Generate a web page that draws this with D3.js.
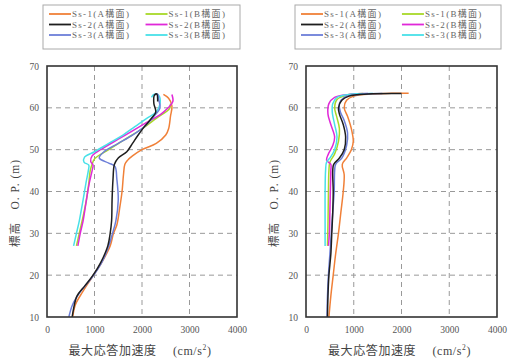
<!DOCTYPE html>
<html><head><meta charset="utf-8">
<script src="https://cdn.jsdelivr.net/npm/d3@7"></script>
<style>
body{margin:0;background:#fff;}
svg text{font-family:"Liberation Serif","DejaVu Serif","Noto Sans CJK JP",serif;}
</style></head>
<body><svg id="c" width="508" height="360"></svg>
<script>
// ---- data ----
const seriesNames = ["Ss-1(A構面)","Ss-1(B構面)","Ss-2(A構面)","Ss-2(B構面)","Ss-3(A構面)","Ss-3(B構面)"];
const seriesColors = ["#f08038","#a8d828","#1e1e1e","#e028d8","#6c7ed8","#48e0e8"];
const xTicks = [0,1000,2000,3000,4000];
const yTicks = [10,20,30,40,50,60,70];

// left panel  [acceleration, elevation]
const L_ss1A = [[540,10],[600,13],[750,16],[950,19.5],[1150,23],[1330,27],[1400,30],[1470,32],[1530,36],[1580,40],[1610,44],[1640,46.5],[1700,47.5],[1800,48.5],[2000,50],[2300,51.5],[2500,53.5],[2560,55],[2600,58],[2630,60.5],[2560,62.3],[2450,63.2]];
const L_ss1B = [[620,27],[680,30],[740,33],[830,38],[880,42],[910,45],[950,46.5],[1000,47.8],[1300,50],[1650,52.5],[2000,55],[2300,57.5],[2580,59.8],[2600,61]];
const L_ss2A = [[530,10],[560,12],[630,15],[800,17.5],[970,20],[1130,23],[1280,27],[1330,30],[1360,33],[1370,38],[1390,43],[1420,46.5],[1500,48],[1680,49.5],[1800,51.5],[1920,53.5],[2050,55.5],[2200,57.5],[2290,59],[2250,61],[2260,63],[2310,63.3],[2330,61.5]];
const L_ss2B = [[650,27],[700,30],[760,33],[830,38],[890,42],[950,45],[970,46.3],[920,47.2],[950,48.5],[1200,50.5],[1500,52.5],[1800,54.5],[2100,56.5],[2400,58.5],[2550,60],[2650,61.5],[2630,63.2]];
const L_ss3A = [[460,10],[540,13],[700,16],[950,19.5],[1150,23],[1300,27],[1380,30],[1450,33],[1500,38],[1470,43],[1430,46],[1300,46.8],[1100,48],[1200,49.5],[1500,51.5],[1800,53.5],[2050,55.5],[2250,58],[2380,60],[2350,62],[2330,63.3],[2250,63]];
const L_ss3B = [[560,27],[620,30],[680,33],[760,38],[820,42],[870,45],[880,46.3],[780,47],[790,48.2],[1000,49.5],[1300,51.5],[1600,53.5],[1850,55.5],[2100,57.5],[2300,59],[2380,61],[2350,63],[2250,63.2],[2200,62.5]];

// right panel
const R_ss1A = [[480,10],[520,15],[570,20],[620,25],[680,30],[730,35],[780,40],[800,44],[760,46.5],[850,48],[950,50],[990,52],[950,55],[870,58],[800,60],[850,61.8],[1000,62.8],[1400,63.3],[1800,63.5],[2150,63.5]];
const R_ss1B = [[450,27],[460,32],[470,40],[480,45],[500,47],[600,49],[680,52],[700,55],[640,58],[600,60],[650,62],[850,63],[1200,63.4]];
const R_ss2A = [[450,10],[460,15],[480,20],[520,25],[540,30],[560,35],[570,40],[560,45],[580,46.5],[700,48],[800,50],[830,53],[780,56],[700,58.5],[680,60],[750,61.8],[900,62.8],[1300,63.3],[2000,63.4]];
const R_ss2B = [[470,27],[490,30],[500,35],[510,40],[520,45],[520,46.5],[430,47.5],[470,49],[560,51],[600,53],[520,56],[460,58.5],[480,61],[600,62.5],[900,63.2],[1300,63.4]];
const R_ss3A = [[440,10],[450,15],[470,20],[500,25],[530,30],[560,35],[590,40],[600,45],[620,46.5],[750,48],[850,51],[870,54],[800,57],[720,59],[700,61],[800,62.5],[1100,63.2],[1600,63.4]];
const R_ss3B = [[400,27],[400,32],[400,40],[410,45],[430,47],[500,48],[600,50],[650,53],[600,56],[550,59],[560,61],[650,62.5],[900,63.2],[1400,63.4]];

const leftSeries = [L_ss1A,L_ss1B,L_ss2A,L_ss2B,L_ss3A,L_ss3B];
const rightSeries = [R_ss1A,R_ss1B,R_ss2A,R_ss2B,R_ss3A,R_ss3B];
const drawOrder = [0,1,3,5,4,2];

const svg = d3.select("#c");

function panel(x0, x1, legX0, legX1, data) {
  const top = 66, bottom = 317;
  const x = d3.scaleLinear().domain([0,4000]).range([x0,x1]);
  const y = d3.scaleLinear().domain([10,70]).range([bottom,top]);
  const g = svg.append("g");

  // grid
  g.selectAll(".gx").data(xTicks.slice(1,-1)).enter().append("line")
    .attr("x1",d=>x(d)).attr("x2",d=>x(d)).attr("y1",top).attr("y2",bottom)
    .attr("stroke","#999").attr("stroke-width",1).attr("stroke-dasharray","5,4");
  g.selectAll(".gy").data(yTicks.slice(1,-1)).enter().append("line")
    .attr("x1",x0).attr("x2",x1).attr("y1",d=>y(d)).attr("y2",d=>y(d))
    .attr("stroke","#999").attr("stroke-width",1).attr("stroke-dasharray","5,4");

  // lines
  const line = d3.line().x(d=>x(d[0])).y(d=>y(d[1])).curve(d3.curveCatmullRom.alpha(0.5));
  drawOrder.forEach(i=>{
    g.append("path").datum(data[i]).attr("d",line)
      .attr("fill","none").attr("stroke",seriesColors[i]).attr("stroke-width",1.5);
  });

  // frame
  g.append("rect").attr("x",x0).attr("y",top).attr("width",x1-x0).attr("height",bottom-top)
    .attr("fill","none").attr("stroke","#333").attr("stroke-width",1.6);

  // axes
  const ax = d3.axisBottom(x).tickValues(xTicks).tickSize(0).tickPadding(9).tickFormat(d3.format("d"));
  const ag = g.append("g").attr("transform",`translate(0,${bottom})`).call(ax);
  ag.select(".domain").remove();
  ag.selectAll("text").attr("font-size",9.5).attr("fill","#555").attr("font-family","Liberation Serif");
  const ay = d3.axisLeft(y).tickValues(yTicks).tickSize(0).tickPadding(8).tickFormat(d3.format("d"));
  const yg = g.append("g").attr("transform",`translate(${x0},0)`).call(ay);
  yg.select(".domain").remove();
  yg.selectAll("text").attr("font-size",9.5).attr("fill","#555").attr("font-family","Liberation Serif");

  // axis titles
  const xt = g.append("text").attr("x",(x0+x1)/2-2).attr("y",355).attr("text-anchor","middle")
    .attr("font-size",12).attr("letter-spacing",0.6).attr("fill","#444");
  xt.append("tspan").text("最大応答加速度　 (cm/s");
  xt.append("tspan").attr("dy",-5).attr("font-size",7.5).text("2");
  xt.append("tspan").attr("dy",5).text(")");
  g.append("text").attr("transform",`translate(${x0-28},${203}) rotate(-90)`)
    .attr("text-anchor","middle").attr("font-size",11.5).attr("letter-spacing",1).attr("fill","#444").text("標高　O. P. (m)");

  // legend
  const lg = g.append("g");
  lg.append("rect").attr("x",legX0).attr("y",5).attr("width",legX1-legX0).attr("height",44)
    .attr("fill","#fff").attr("stroke","#aaa").attr("stroke-width",1);
  const colW = (legX1-legX0)/2;
  seriesNames.forEach((n,i)=>{
    const col = i%2, row = Math.floor(i/2);
    const lx = legX0 + 6 + col*colW*0.98;
    const ly = 14 + row*10.5;
    lg.append("line").attr("x1",lx).attr("x2",lx+22).attr("y1",ly).attr("y2",ly)
      .attr("stroke",seriesColors[i]).attr("stroke-width",1.8);
    lg.append("text").attr("x",lx+23).attr("y",ly+3.2).attr("font-size",9)
      .attr("letter-spacing",1.3).attr("fill","#666").text(n);
  });
}

panel(47, 237, 43, 240, leftSeries);
panel(306, 497, 295, 501, rightSeries);
</script>
</body></html>
